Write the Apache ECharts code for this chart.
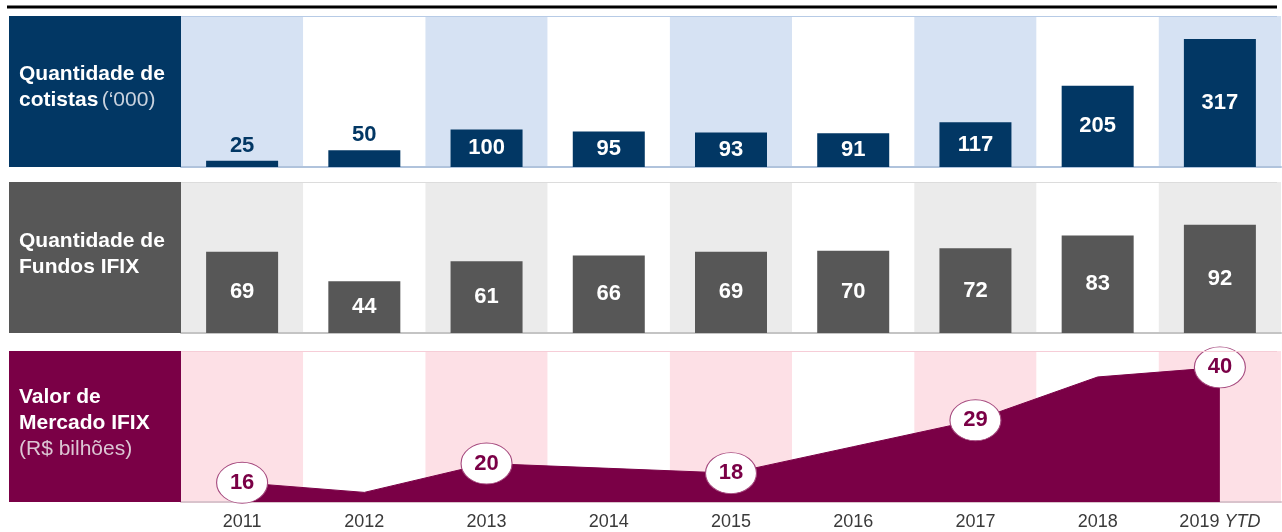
<!DOCTYPE html>
<html>
<head>
<meta charset="utf-8">
<script src="https://cdn.jsdelivr.net/npm/echarts@6/dist/echarts.min.js"></script>
<style>
html,body{margin:0;padding:0;background:#fff;}
#chart{width:1282px;height:532px;}
</style>
</head>
<body>
<div id="chart"></div>
<script>
const categories = ['2011', '2012', '2013', '2014', '2015', '2016', '2017', '2018', '2019 YTD'];
const cotistas = [25, 50, 100, 95, 93, 91, 117, 205, 317];
const fundosIfix = [69, 44, 61, 66, 69, 70, 72, 83, 92];
const valorMercado = [16, 14, 20, 19, 18, 23.5, 29, 38, 40];
const valorLabelShown = [true, false, true, false, true, false, true, false, true];
const panelTitles = [
  ['Quantidade de', 'cotistas', '(‘000)'],
  ['Quantidade de', 'Fundos IFIX', ''],
  ['Valor de', 'Mercado IFIX', '(R$ bilhões)']
];

const FONT = '"Liberation Sans", Arial, Helvetica, sans-serif';
const NAVY = '#023764', GREY = '#575757', PURPLE = '#7a0046';
const panels = [
  { top: 16, bottom: 167, box: NAVY, bg: '#d6e2f3', topLine: '#b7cbe6', axisLine: '#b0c3dc' },
  { top: 182, bottom: 333, box: GREY, bg: '#ebebeb', topLine: '#dcdcdc', axisLine: '#c4c4c4' },
  { top: 351, bottom: 502, box: PURPLE, bg: '#fde0e6', topLine: '#f6cdd7', axisLine: '#d9c3cc' }
];
const GL = 181, GR = 1;

const chart = echarts.init(document.getElementById('chart'), null, { renderer: 'canvas' });

const grids = panels.map(p => ({ left: GL, right: GR, top: p.top, height: p.bottom - p.top }));

const xAxes = panels.map((p, i) => ({
  type: 'category', gridIndex: i, data: categories, boundaryGap: true,
  axisLine: { show: true, lineStyle: { color: p.axisLine, width: 2 } },
  axisTick: { show: false, interval: 0 },
  axisLabel: i === 2 ? {
    show: true, interval: 0, margin: 11, fontFamily: FONT, fontSize: 18, color: '#3a3a3a',
    formatter: v => v.endsWith('YTD') ? v.replace(' YTD', ' {i|YTD}') : v,
    rich: { i: { fontStyle: 'italic', fontFamily: FONT, fontSize: 18, color: '#3a3a3a' } }
  } : { show: false, interval: 0 },
  splitArea: { show: true, interval: 0, areaStyle: { color: [p.bg, '#ffffff'] } },
  splitLine: { show: false }
}));

const yAxes = [
  { type: 'value', gridIndex: 0, min: 10, max: 372, show: false, splitLine: { show: false } },
  { type: 'value', gridIndex: 1, min: 0, max: 128.4, show: false, splitLine: { show: false } },
  { type: 'value', gridIndex: 2, min: 12, max: 43.4, show: false, splitLine: { show: false } }
];

const valueLabel = { fontFamily: FONT, fontSize: 22, fontWeight: 'bold' };

const cotistasData = cotistas.map(v => v < 60 ? {
  value: v,
  label: { position: 'top', distance: 4, color: NAVY }
} : { value: v });

const ellipse = 'path://M0,20A25,20,0,1,1,50,20A25,20,0,1,1,0,20Z';
const valorData = valorMercado.map((v, i) => valorLabelShown[i] ? {
  value: v,
  symbol: ellipse,
  symbolSize: [51, 41],
  itemStyle: { color: '#ffffff', borderColor: '#a5497e', borderWidth: 1 },
  label: { show: true, position: 'inside', color: PURPLE, ...valueLabel }
} : { value: v, symbol: 'none' });

const graphics = [];
graphics.push({ type: 'line', shape: { x1: 7, y1: 7, x2: 1277, y2: 7 }, style: { stroke: '#000', lineWidth: 3 } });
panels.forEach((p, i) => {
  graphics.push({ type: 'rect', shape: { x: 9, y: p.top, width: GL - 9, height: p.bottom - p.top }, style: { fill: p.box }, z: 10 });
  graphics.push({ type: 'line', shape: { x1: GL, y1: p.top + 0.5, x2: 1277, y2: p.top + 0.5 }, style: { stroke: p.topLine, lineWidth: 1 }, z: 10 });
  const t = panelTitles[i];
  const lines = [];
  lines.push('{b|' + t[0] + '}');
  lines.push('{b|' + t[1] + '}' + (i === 0 ? ' {n|' + t[2] + '}' : ''));
  if (i === 2) lines.push('{n|' + t[2] + '}');
  const textTops = [64, 231, 387];
  graphics.push({
    type: 'text', left: 19, top: textTops[i], z: 11,
    style: {
      text: lines.join('\n'),
      rich: {
        b: { fontFamily: FONT, fontSize: 21, fontWeight: 'bold', fill: '#ffffff', lineHeight: 26 },
        n: { fontFamily: FONT, fontSize: 21, fontWeight: 'normal', fill: i === 0 ? '#c9d2de' : '#dcc6d4', lineHeight: 26 }
      }
    }
  });
});

chart.setOption({
  animation: false,
  backgroundColor: '#ffffff',
  grid: grids,
  xAxis: xAxes,
  yAxis: yAxes,
  graphic: graphics,
  series: [
    {
      type: 'bar', xAxisIndex: 0, yAxisIndex: 0, data: cotistasData, barWidth: 72,
      itemStyle: { color: NAVY },
      label: { show: true, position: 'inside', color: '#ffffff', ...valueLabel }
    },
    {
      type: 'bar', xAxisIndex: 1, yAxisIndex: 1, data: fundosIfix, barWidth: 72,
      itemStyle: { color: GREY },
      label: { show: true, position: 'inside', color: '#ffffff', ...valueLabel }
    },
    {
      type: 'line', xAxisIndex: 2, yAxisIndex: 2, data: valorData,
      symbol: ellipse, symbolSize: [51, 41], showSymbol: true,
      itemStyle: { color: PURPLE },
      lineStyle: { color: PURPLE, width: 1 },
      areaStyle: { color: PURPLE, opacity: 1 },
      label: { show: false },
      z: 3
    }
  ]
});
</script>
</body>
</html>
